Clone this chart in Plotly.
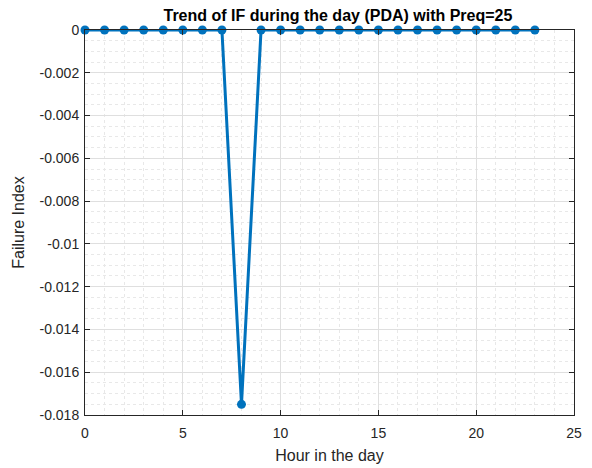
import plotly.graph_objects as go

hours = list(range(24))
failure_index = [0, 0, 0, 0, 0, 0, 0, 0, -0.0175, 0, 0, 0, 0, 0, 0, 0, 0, 0, 0, 0, 0, 0, 0, 0]
x_ticks = [0, 5, 10, 15, 20, 25]
y_ticks = [0, -0.002, -0.004, -0.006, -0.008, -0.01, -0.012, -0.014, -0.016, -0.018]
y_tick_text = ["0", "-0.002", "-0.004", "-0.006", "-0.008", "-0.01", "-0.012", "-0.014", "-0.016", "-0.018"]

FONT = "Liberation Sans, Arial, sans-serif"

fig = go.Figure()
fig.add_trace(go.Scatter(
    x=hours, y=failure_index, mode="lines+markers",
    line=dict(color="#0072BD", width=3),
    marker=dict(color="#0072BD", size=9),
    cliponaxis=False, showlegend=False))

axis_common = dict(
    showline=True, linecolor="#262626", linewidth=1, mirror="ticks",
    ticks="inside", ticklen=5, tickcolor="#262626",
    showgrid=True, gridcolor="#dfdfdf", gridwidth=1,
    zeroline=False, automargin=False,
    tickfont=dict(family=FONT, size=14, color="#262626"),
)

fig.update_xaxes(
    range=[0, 25], tickvals=x_ticks, ticklabelstandoff=5,
    title=dict(text="Hour in the day", font=dict(family=FONT, size=16, color="#262626"), standoff=10),
    minor=dict(dtick=1, showgrid=True, gridcolor="#e8e8e8", griddash="dot", gridwidth=1, ticks=""),
    **axis_common)
fig.update_yaxes(
    range=[-0.018, 0], tickvals=y_ticks, ticktext=y_tick_text, ticklabelstandoff=2,
    title=dict(text="Failure Index", font=dict(family=FONT, size=16, color="#262626"), standoff=10),
    minor=dict(dtick=0.0005, tick0=0, showgrid=True, gridcolor="#e8e8e8", griddash="dot", gridwidth=1, ticks=""),
    **axis_common)

fig.update_layout(
    width=584, height=460,
    margin=dict(l=77, r=18, t=22, b=53),
    paper_bgcolor="white", plot_bgcolor="white",
    title=dict(text="<b>Trend of IF during the day (PDA) with Preq=25</b>",
               font=dict(family=FONT, size=16, color="black"),
               x=0.565, xanchor="center", yref="container", y=1 - 7 / 460, yanchor="middle"),
)

fig.write_html("out.html")
